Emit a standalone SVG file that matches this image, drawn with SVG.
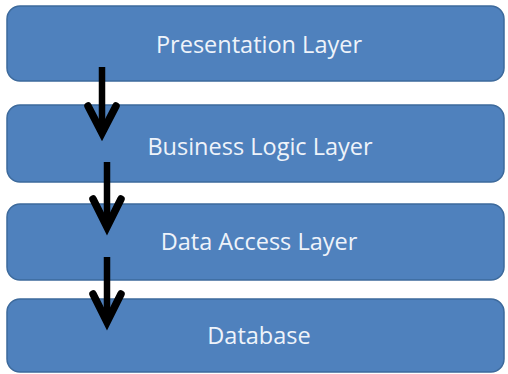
<svg xmlns="http://www.w3.org/2000/svg" width="508" height="374" viewBox="0 0 508 374">
<style>
.box{fill:#4f81bd;stroke:#3d6a9c;stroke-width:1.5}
.lbl{font-family:"Open Sans","Liberation Sans",sans-serif;font-size:23.5px;fill:#eef3fa;text-anchor:middle}
.shaft{stroke:#000;stroke-width:6.5;fill:none}
.head{stroke:#000;stroke-width:7.5;fill:none;stroke-linejoin:miter;stroke-linecap:round}
</style>
<rect width="508" height="374" fill="#ffffff"/>
<g id="presentation"><rect class="box" x="7" y="6" width="497" height="75" rx="13"/><text class="lbl" x="259" y="53">Presentation Layer</text></g>
<g id="business"><rect class="box" x="7" y="105" width="497" height="77" rx="13"/><text class="lbl" x="260" y="155">Business Logic Layer</text></g>
<g id="dataaccess"><rect class="box" x="7" y="204" width="497" height="76" rx="13"/><text class="lbl" x="259" y="250">Data Access Layer</text></g>
<g id="database"><rect class="box" x="7" y="299" width="497" height="73" rx="13"/><text class="lbl" x="259" y="344">Database</text></g>
<g id="connectors">
<line class="shaft" x1="102" y1="67" x2="102" y2="132"/><polyline class="head" points="88,106 102,133 116,106"/>
<line class="shaft" x1="107" y1="162" x2="107" y2="226"/><polyline class="head" points="93,199 107,227 121,199"/>
<line class="shaft" x1="107" y1="257" x2="107" y2="321"/><polyline class="head" points="93,294 107,322 121,294"/>
</g>
</svg>
